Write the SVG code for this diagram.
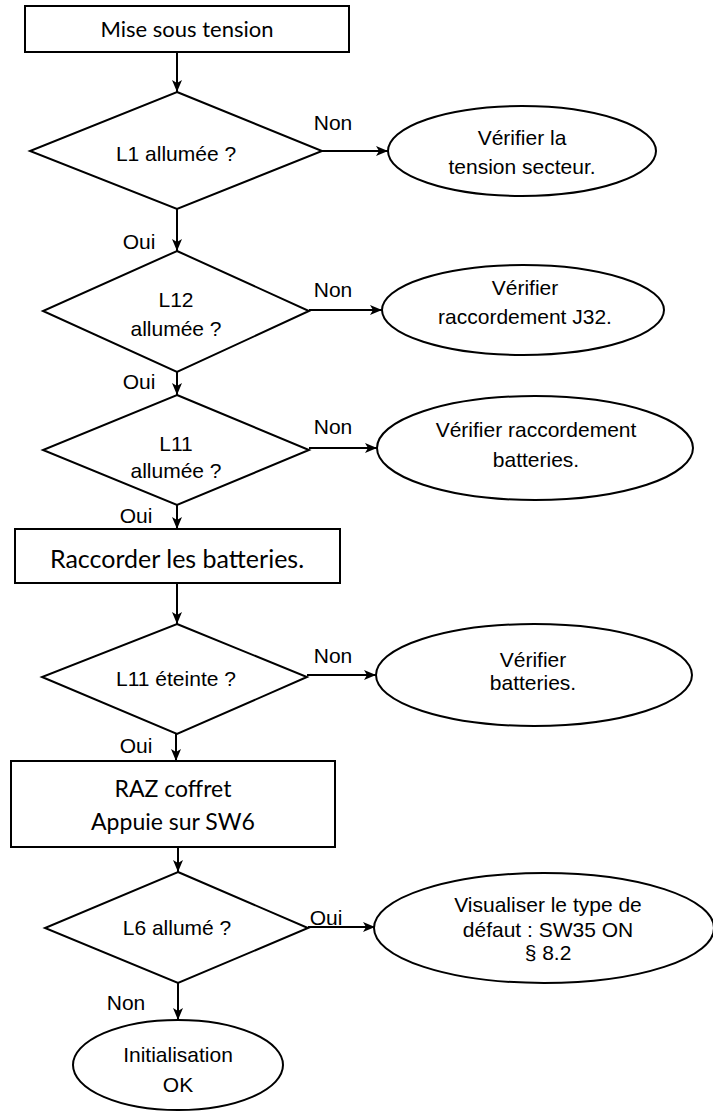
<svg xmlns="http://www.w3.org/2000/svg" width="713" height="1113" viewBox="0 0 713 1113">
<style>
.shape{fill:#fff;stroke:#000;stroke-width:2}
.conn{fill:none;stroke:#000;stroke-width:2}
.t{font-family:"Liberation Sans",Arial,sans-serif;font-size:21px;fill:#000;text-anchor:middle}
.c{font-family:Lato,"Open Sans",sans-serif;font-size:23px;fill:#000;text-anchor:middle}
</style>
<defs>
<marker id="ah" viewBox="0 0 12 10" refX="12" refY="5" markerWidth="12" markerHeight="10" markerUnits="userSpaceOnUse" orient="auto">
<path d="M0,0 L12,5 L0,10 L3,5 z" fill="#000"/>
</marker>
</defs>
<rect width="713" height="1113" fill="#fff"/>
<g id="connectors">
<line class="conn" x1="177" y1="52" x2="177" y2="92" marker-end="url(#ah)"/>
<line class="conn" x1="177" y1="209" x2="177" y2="251" marker-end="url(#ah)"/>
<line class="conn" x1="177" y1="372" x2="177" y2="395" marker-end="url(#ah)"/>
<line class="conn" x1="177" y1="505" x2="177" y2="529" marker-end="url(#ah)"/>
<line class="conn" x1="177" y1="583" x2="177" y2="624" marker-end="url(#ah)"/>
<line class="conn" x1="176" y1="734" x2="176" y2="761" marker-end="url(#ah)"/>
<line class="conn" x1="178" y1="847" x2="178" y2="872" marker-end="url(#ah)"/>
<line class="conn" x1="178" y1="983" x2="178" y2="1020" marker-end="url(#ah)"/>
<line class="conn" x1="322" y1="151" x2="388" y2="151" marker-end="url(#ah)"/>
<line class="conn" x1="309" y1="310" x2="382" y2="310" marker-end="url(#ah)"/>
<line class="conn" x1="309" y1="448" x2="377" y2="448" marker-end="url(#ah)"/>
<line class="conn" x1="307" y1="675" x2="376" y2="675" marker-end="url(#ah)"/>
<line class="conn" x1="308" y1="927" x2="375" y2="927" marker-end="url(#ah)"/>
<text class="t" x="333" y="130">Non</text>
<text class="t" x="333" y="297">Non</text>
<text class="t" x="333" y="434">Non</text>
<text class="t" x="333" y="663">Non</text>
<text class="t" x="326" y="925">Oui</text>
<text class="t" x="139" y="249">Oui</text>
<text class="t" x="139" y="389">Oui</text>
<text class="t" x="136" y="523">Oui</text>
<text class="t" x="136" y="753">Oui</text>
<text class="t" x="126" y="1010">Non</text>
</g>
<g id="start">
<rect class="shape" x="25" y="6" width="324" height="46"/>
<text class="c" x="187" y="37" style="font-size:22px">Mise sous tension</text>
</g>
<g id="d1">
<polygon class="shape" points="177,92 322,151 177,209 30,151"/>
<text class="t" x="176" y="161">L1 allumée ?</text>
</g>
<g id="e1">
<ellipse class="shape" cx="522" cy="151" rx="134" ry="45"/>
<text class="t" x="522" y="145">Vérifier la</text>
<text class="t" x="522" y="174">tension secteur.</text>
</g>
<g id="d2">
<polygon class="shape" points="177,251 309,311 177,372 43,311"/>
<text class="t" x="176" y="307">L12</text>
<text class="t" x="176" y="336">allumée ?</text>
</g>
<g id="e2">
<ellipse class="shape" cx="523" cy="310" rx="141" ry="45"/>
<text class="t" x="525" y="295">Vérifier</text>
<text class="t" x="525" y="324">raccordement J32.</text>
</g>
<g id="d3">
<polygon class="shape" points="177,395 309,450 177,505 43,450"/>
<text class="t" x="176" y="451">L11</text>
<text class="t" x="176" y="478">allumée ?</text>
</g>
<g id="e3">
<ellipse class="shape" cx="535" cy="448" rx="158" ry="52"/>
<text class="t" x="536" y="437">Vérifier raccordement</text>
<text class="t" x="536" y="467">batteries.</text>
</g>
<g id="b2">
<rect class="shape" x="15" y="529" width="325" height="54"/>
<text class="c" x="177" y="568" style="font-size:25px">Raccorder les batteries.</text>
</g>
<g id="d4">
<polygon class="shape" points="177,624 307,677 177,734 42,677"/>
<text class="t" x="176" y="686">L11 éteinte ?</text>
</g>
<g id="e4">
<ellipse class="shape" cx="534" cy="675" rx="158" ry="51"/>
<text class="t" x="533" y="667">Vérifier</text>
<text class="t" x="533" y="690">batteries.</text>
</g>
<g id="b3">
<rect class="shape" x="11" y="761" width="324" height="86"/>
<text class="c" x="173" y="797">RAZ coffret</text>
<text class="c" x="173" y="830">Appuie sur SW6</text>
</g>
<g id="d5">
<polygon class="shape" points="178,872 308,928 178,983 45,928"/>
<text class="t" x="177" y="935">L6 allumé ?</text>
</g>
<g id="e5">
<ellipse class="shape" cx="544" cy="928" rx="170" ry="55"/>
<text class="t" x="548" y="912">Visualiser le type de</text>
<text class="t" x="548" y="937">défaut : SW35 ON</text>
<text class="t" x="548" y="960">§ 8.2</text>
</g>
<g id="end">
<ellipse class="shape" cx="178" cy="1065" rx="105" ry="45"/>
<text class="t" x="178" y="1062">Initialisation</text>
<text class="t" x="178" y="1092">OK</text>
</g>
</svg>
